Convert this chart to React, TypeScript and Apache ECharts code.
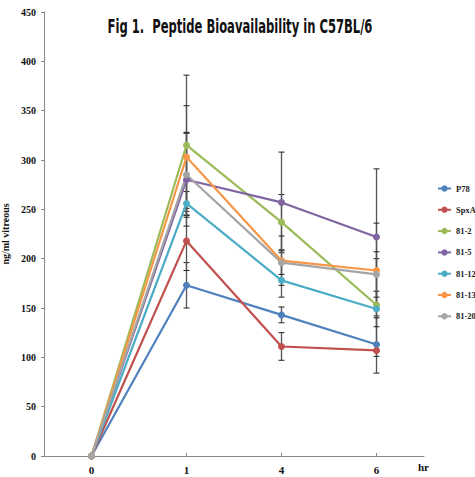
import React, { useEffect, useRef } from "react";
import * as echarts from "echarts";

const categories = ["0", "1", "4", "6"];
const seriesNames = ["P78", "SpxA", "81-2", "81-5", "81-12", "81-13", "81-20"];
const colors = ["#4F81BD", "#C0504D", "#9BBB59", "#8064A2", "#4BACC6", "#F79646", "#A5A5A5"];

const p78 = [0, 173, 143, 113];
const spxA = [0, 218, 111, 107];
const s81_2 = [0, 315, 237, 153];
const s81_5 = [0, 280, 257, 222];
const s81_12 = [0, 256, 178, 149];
const s81_13 = [0, 303, 198, 188];
const s81_20 = [0, 285, 196, 184];

const err_p78 = [0, 23, 8, 29];
const err_spxA = [0, 30, 14, 6];
const err_81_2 = [0, 71, 28, 47];
const err_81_5 = [0, 47, 51, 69];
const err_81_12 = [0, 12, 17, 18];
const err_81_13 = [0, 52, 25, 48];
const err_81_20 = [0, 43, 12, 23];

const values = [p78, spxA, s81_2, s81_5, s81_12, s81_13, s81_20];
const errors = [err_p78, err_spxA, err_81_2, err_81_5, err_81_12, err_81_13, err_81_20];

const yTicks = { min: 0, max: 450, interval: 50 };

const titleText = "Fig 1.  Peptide Bioavailability in C57BL/6";
const serif = "'Liberation Serif', 'Times New Roman', serif";
const titleFont = "bold 20px 'DejaVu Sans Condensed', Roboto, sans-serif";

function measure(text: string, font: string): number {
  const c = document.createElement("canvas");
  const ctx = c.getContext("2d");
  if (!ctx) return 300;
  ctx.font = font;
  return ctx.measureText(text).width;
}

export default function App() {
  const ref = useRef<HTMLDivElement>(null);
  useEffect(() => {
    if (!ref.current) return;
    const chart = echarts.init(ref.current, null, { renderer: "svg" });

    const errData: number[][] = [];
    values.forEach((vals, si) => {
      vals.forEach((v, i) => {
        const e = errors[si][i];
        if (e > 0) errData.push([i, v - e, v + e]);
      });
    });

    const lineSeries = seriesNames.map((name, si) => ({
      name,
      type: "line",
      data: values[si],
      symbol: "circle",
      symbolSize: 7,
      z: 3,
      lineStyle: { width: 2.2, color: colors[si] },
      itemStyle: { color: colors[si] },
    }));

    const errSeries = {
      name: "err",
      type: "custom",
      z: 2,
      data: errData,
      renderItem: (params: any, api: any) => {
        const x = api.value(0);
        const lo = api.coord([x, api.value(1)]);
        const hi = api.coord([x, api.value(2)]);
        const w = 3;
        const style = { stroke: "#222", lineWidth: 1 };
        return {
          type: "group",
          children: [
            { type: "line", shape: { x1: lo[0], y1: lo[1], x2: hi[0], y2: hi[1] }, style: { stroke: "#555", lineWidth: 1.3 } },
            { type: "line", shape: { x1: lo[0] - w, y1: lo[1], x2: lo[0] + w, y2: lo[1] }, style },
            { type: "line", shape: { x1: hi[0] - w, y1: hi[1], x2: hi[0] + w, y2: hi[1] }, style },
          ],
        };
      },
    };

    const tw = measure(titleText, titleFont);
    const titleScale = 265 / tw;

    chart.setOption({
      animation: false,
      backgroundColor: "#fff",
      legend: {
        data: seriesNames,
        orient: "vertical",
        left: 432,
        top: 179,
        itemWidth: 13,
        itemHeight: 8,
        itemGap: 12.3,
        textStyle: { fontFamily: serif, fontSize: 8.5, fontWeight: "bold", color: "#222" },
      },
      grid: { left: 44, right: 51, top: 12, bottom: 21, containLabel: false, outerBoundsMode: "none" },
      xAxis: {
        type: "category",
        data: categories,
        boundaryGap: true,
        axisLine: { lineStyle: { color: "#888" } },
        axisTick: { show: true, alignWithLabel: true, inside: true, length: 3, lineStyle: { color: "#888" } },
        axisLabel: { fontFamily: serif, fontSize: 11, fontWeight: "bold", color: "#111", margin: 8 },
      },
      yAxis: {
        type: "value",
        min: yTicks.min,
        max: yTicks.max,
        interval: yTicks.interval,
        name: "ng/ml vitreous",
        nameLocation: "middle",
        nameGap: 28,
        nameTextStyle: { fontFamily: serif, fontSize: 10, fontWeight: "bold", color: "#111" },
        splitLine: { show: false },
        axisLine: { show: true, lineStyle: { color: "#888" } },
        axisTick: { show: true, length: 3, lineStyle: { color: "#888" } },
        axisLabel: { fontFamily: serif, fontSize: 10, fontWeight: "bold", color: "#111", margin: 8 },
      },
      graphic: [
        {
          type: "text",
          x: 240,
          y: 26,
          scaleX: titleScale,
          style: {
            text: titleText,
            font: titleFont,
            fill: "#111",
            align: "center",
            verticalAlign: "middle",
          },
        },
        {
          type: "text",
          left: 418,
          top: 461,
          style: { text: "hr", font: `bold 11px ${serif}`, fill: "#111" },
        },
      ],
      series: [errSeries, ...lineSeries],
    });

    return () => chart.dispose();
  }, []);

  return (
    <div
      ref={ref}
      style={{ position: "absolute", left: 0, top: 0, width: 475, height: 477 }}
    />
  );
}
